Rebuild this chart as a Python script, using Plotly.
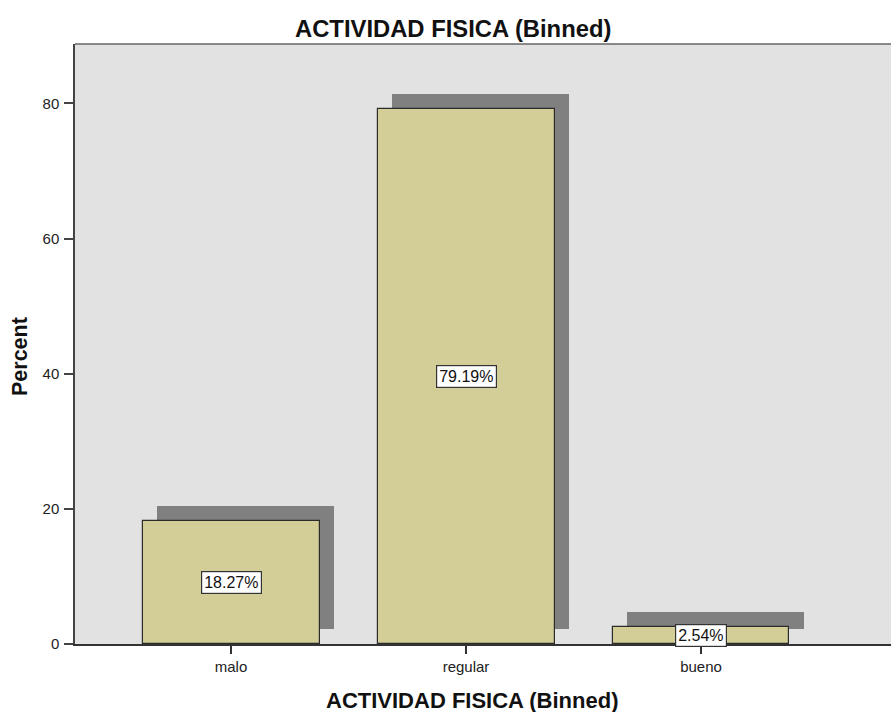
import plotly.graph_objects as go

# Category data: percent of respondents per physical-activity bin
categories = ["malo", "regular", "bueno"]
percents = [18.27, 79.19, 2.54]
value_labels = ["18.27%", "79.19%", "2.54%"]
y_ticks = [0, 20, 40, 60, 80]

positions = list(range(len(categories)))

FONT = "Arial, 'Liberation Sans', sans-serif"
BAR_W = 0.753
SHADOW_DX = 0.06    # drop-shadow shift along x (category units)
SHADOW_DY = 2.2     # drop-shadow lift along y (percent units)

fig = go.Figure()

# Drop shadows behind each bar
fig.add_trace(go.Bar(
    x=[p + SHADOW_DX for p in positions],
    y=percents,
    base=[SHADOW_DY] * len(percents),
    width=BAR_W,
    marker=dict(color="#808080", line=dict(width=0)),
    hoverinfo="skip",
    showlegend=False,
))

# Main bars
fig.add_trace(go.Bar(
    x=positions,
    y=percents,
    width=BAR_W,
    marker=dict(color="#D3CE97", line=dict(color="#2b2b2b", width=1.2)),
    showlegend=False,
))

# Boxed value labels at the middle of each bar
for p, v, lab in zip(positions, percents, value_labels):
    fig.add_annotation(
        x=p, y=v / 2, text=lab, showarrow=False,
        font=dict(family=FONT, size=16, color="#111111"),
        bgcolor="white", bordercolor="#333333", borderwidth=1.2, borderpad=2,
    )

# Chart title
fig.add_annotation(
    xref="paper", yref="paper", x=(453 - 75) / 816, y=1, yshift=16,
    text="<b>ACTIVIDAD FISICA (Binned)</b>", showarrow=False,
    font=dict(family=FONT, size=23.8, color="#111111"),
    xanchor="center", yanchor="middle",
)
# X axis title
fig.add_annotation(
    xref="paper", yref="paper", x=(472 - 75) / 816, y=0, yshift=-56,
    text="<b>ACTIVIDAD FISICA (Binned)</b>", showarrow=False,
    font=dict(family=FONT, size=22, color="#111111"),
    xanchor="center", yanchor="middle",
)
# Y axis title
fig.add_annotation(
    xref="paper", yref="paper", x=0, xshift=-55, y=(644 - 357) / 600,
    text="<b>Percent</b>", showarrow=False, textangle=-90,
    font=dict(family=FONT, size=21.5, color="#111111"),
    xanchor="center", yanchor="middle",
)

# Top frame line of the plot area
fig.add_shape(type="line", xref="paper", yref="paper",
              x0=0, x1=1, y0=1, y1=1, line=dict(color="#666666", width=1.5))

fig.update_layout(
    width=891, height=712,
    margin=dict(l=75, r=0, t=44, b=68),
    paper_bgcolor="white",
    plot_bgcolor="#E2E2E2",
    barmode="overlay",
    bargap=0,
    font=dict(family=FONT, color="#222222"),
)

fig.update_xaxes(
    range=[-0.664, 2.8085],
    tickvals=positions, ticktext=categories,
    ticks="outside", ticklen=8, tickcolor="#333333", tickwidth=1.5,
    tickfont=dict(family=FONT, size=15, color="#222222"),
    showline=True, linecolor="#333333", linewidth=1.5,
    showgrid=False, zeroline=False, fixedrange=True,
)
fig.update_yaxes(
    range=[0, 88.8],
    tickvals=y_ticks,
    ticks="outside", ticklen=9, tickcolor="#444444", tickwidth=1.5,
    tickfont=dict(family=FONT, size=15, color="#222222"),
    ticklabelstandoff=2,
    showline=True, linecolor="#444444", linewidth=1.5,
    showgrid=False, zeroline=False, fixedrange=True,
)

fig.write_html("out.html")
